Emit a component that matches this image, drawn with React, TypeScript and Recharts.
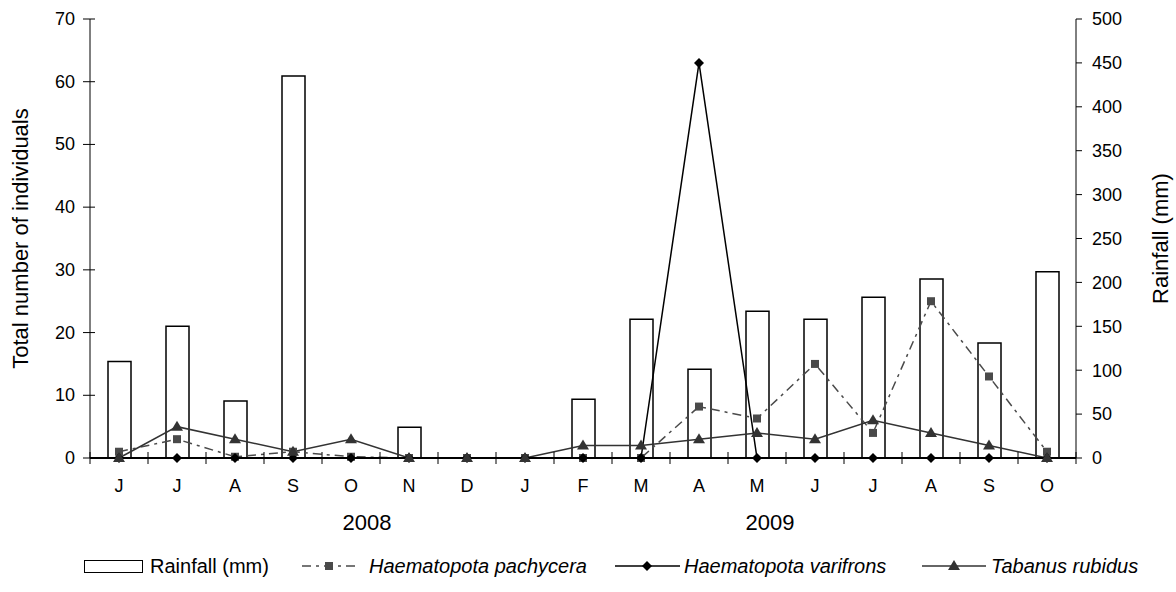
import { ComposedChart, Bar, Line, XAxis, YAxis } from 'recharts';

const months = ['J', 'J', 'A', 'S', 'O', 'N', 'D', 'J', 'F', 'M', 'A', 'M', 'J', 'J', 'A', 'S', 'O'];
const rainfall = [110, 150, 65, 435, 0, 35, 0, 0, 67, 158, 101, 167, 158, 183, 204, 131, 212];
const pachycera = [1, 3, 0.2, 1, 0.2, 0, 0, 0, 0, 0, 8.2, 6.3, 15, 4, 25, 13, 1];
const varifrons = [0, 0, 0, 0, 0, 0, 0, 0, 0, 0, 63, 0, 0, 0, 0, 0, 0];
const rubidus = [0, 5, 3, 1, 3, 0, 0, 0, 2, 2, 3, 4, 3, 6, 4, 2, 0];
const leftTicks = [0, 10, 20, 30, 40, 50, 60, 70];
const rightTicks = [0, 50, 100, 150, 200, 250, 300, 350, 400, 450, 500];

const data = months.map((m, i) => ({
  month: m,
  rainfall: rainfall[i],
  pachycera: pachycera[i],
  varifrons: varifrons[i],
  rubidus: rubidus[i],
}));

const FONT = '"Liberation Sans", Arial, sans-serif';

// month labels + tick marks at the category boundaries, crossing the axis
const MonthTick = (props: any) => {
  const { x, y, payload, index } = props;
  const half = payload && payload.offset ? payload.offset : 29;
  return (
    <g>
      <line x1={x - half} x2={x - half} y1={y - 6} y2={y + 6} stroke="#000" strokeWidth={1} />
      {index === months.length - 1 && (
        <line x1={x + half} x2={x + half} y1={y - 6} y2={y + 6} stroke="#000" strokeWidth={1} />
      )}
      <text x={x} y={y + 34} textAnchor="middle" fontSize={18} fill="#000" fontFamily={FONT}>
        {payload.value}
      </text>
    </g>
  );
};

const LeftTick = (props: any) => {
  const { x, y, payload } = props;
  return (
    <g>
      <line x1={x - 7} x2={x + 5} y1={y} y2={y} stroke="#000" strokeWidth={1} />
      <text x={x - 15} y={y + 6} textAnchor="end" fontSize={18} fill="#000" fontFamily={FONT}>
        {payload.value}
      </text>
    </g>
  );
};

const SquareDot = (p: any) => (
  <rect key={`sq-${p.index}`} x={p.cx - 4} y={p.cy - 4} width={8} height={8} fill="#4a4a4a" />
);

const DiamondDot = (p: any) => (
  <path
    key={`dm-${p.index}`}
    d={`M${p.cx},${p.cy - 5}L${p.cx + 5},${p.cy}L${p.cx},${p.cy + 5}L${p.cx - 5},${p.cy}Z`}
    fill="#000"
  />
);

const TriangleDot = (p: any) => (
  <path
    key={`tr-${p.index}`}
    d={`M${p.cx},${p.cy - 6}L${p.cx + 6},${p.cy + 4}L${p.cx - 6},${p.cy + 4}Z`}
    fill="#333"
  />
);

const legendText = { position: 'absolute' as const, top: 554, fontSize: 20, fontFamily: FONT, color: '#000', lineHeight: '24px' };

export default function App() {
  return (
    <div style={{ position: 'absolute', left: 0, top: 0, width: 1176, height: 592, background: '#fff', fontFamily: FONT }}>
      <ComposedChart width={1176} height={592} data={data} margin={{ top: 19, right: 0, left: 0, bottom: 104 }}>
        <XAxis
          dataKey="month"
          height={30}
          tickSize={0}
          tickMargin={0}
          tickLine={false}
          interval={0}
          tick={<MonthTick />}
          axisLine={{ stroke: '#000', strokeWidth: 2 }}
        />
        <YAxis
          yAxisId="left"
          width={90}
          domain={[0, 70]}
          ticks={leftTicks}
          tickSize={0}
          tickMargin={0}
          tickLine={false}
          tick={<LeftTick />}
          axisLine={{ stroke: '#000', strokeWidth: 1 }}
          label={{
            value: 'Total number of individuals',
            angle: -90,
            position: 'insideLeft',
            offset: 20,
            style: { textAnchor: 'middle', fontSize: 22, fill: '#000', fontFamily: FONT },
          }}
        />
        <YAxis
          yAxisId="right"
          orientation="right"
          width={100}
          domain={[0, 500]}
          ticks={rightTicks}
          tickSize={6}
          tickMargin={10}
          tick={{ fontSize: 18, fill: '#000', fontFamily: FONT }}
          tickLine={{ stroke: '#000' }}
          axisLine={{ stroke: '#000', strokeWidth: 1 }}
          label={{
            value: 'Rainfall (mm)',
            angle: -90,
            position: 'insideRight',
            offset: 16,
            style: { textAnchor: 'middle', fontSize: 22, fill: '#000', fontFamily: FONT },
          }}
        />
        <Bar yAxisId="right" dataKey="rainfall" barSize={23} fill="#fff" stroke="#000" strokeWidth={1.5} isAnimationActive={false} />
        <Line
          yAxisId="left"
          dataKey="pachycera"
          type="linear"
          stroke="#4a4a4a"
          strokeWidth={1.5}
          strokeDasharray="9 5 3 5"
          dot={SquareDot}
          activeDot={false}
          isAnimationActive={false}
        />
        <Line
          yAxisId="left"
          dataKey="varifrons"
          type="linear"
          stroke="#000"
          strokeWidth={1.5}
          dot={DiamondDot}
          activeDot={false}
          isAnimationActive={false}
        />
        <Line
          yAxisId="left"
          dataKey="rubidus"
          type="linear"
          stroke="#333"
          strokeWidth={1.5}
          dot={TriangleDot}
          activeDot={false}
          isAnimationActive={false}
        />
      </ComposedChart>

      {/* year labels under the month axis */}
      <div style={{ position: 'absolute', left: 317, width: 100, top: 510, textAlign: 'center', fontSize: 22, fontFamily: FONT }}>2008</div>
      <div style={{ position: 'absolute', left: 720, width: 100, top: 510, textAlign: 'center', fontSize: 22, fontFamily: FONT }}>2009</div>

      {/* legend */}
      <div style={{ position: 'absolute', left: 84, top: 560, width: 57, height: 11, border: '1.5px solid #000', background: '#fff' }} />
      <div style={{ ...legendText, left: 150 }}>Rainfall (mm)</div>

      <svg style={{ position: 'absolute', left: 300, top: 556 }} width={60} height={20}>
        <line x1={2} x2={58} y1={10} y2={10} stroke="#4a4a4a" strokeWidth={1.5} strokeDasharray="9 5 3 5" />
        <rect x={25} y={6} width={8} height={8} fill="#4a4a4a" />
      </svg>
      <div style={{ ...legendText, left: 369, fontStyle: 'italic' }}>Haematopota pachycera</div>

      <svg style={{ position: 'absolute', left: 615, top: 556 }} width={65} height={20}>
        <line x1={0} x2={65} y1={10} y2={10} stroke="#000" strokeWidth={1.5} />
        <path d="M32,5L37,10L32,15L27,10Z" fill="#000" />
      </svg>
      <div style={{ ...legendText, left: 684, fontStyle: 'italic' }}>Haematopota varifrons</div>

      <svg style={{ position: 'absolute', left: 922, top: 556 }} width={64} height={20}>
        <line x1={0} x2={64} y1={10} y2={10} stroke="#333" strokeWidth={1.5} />
        <path d="M32,4L38,14L26,14Z" fill="#333" />
      </svg>
      <div style={{ ...legendText, left: 991, fontStyle: 'italic' }}>Tabanus rubidus</div>
    </div>
  );
}
